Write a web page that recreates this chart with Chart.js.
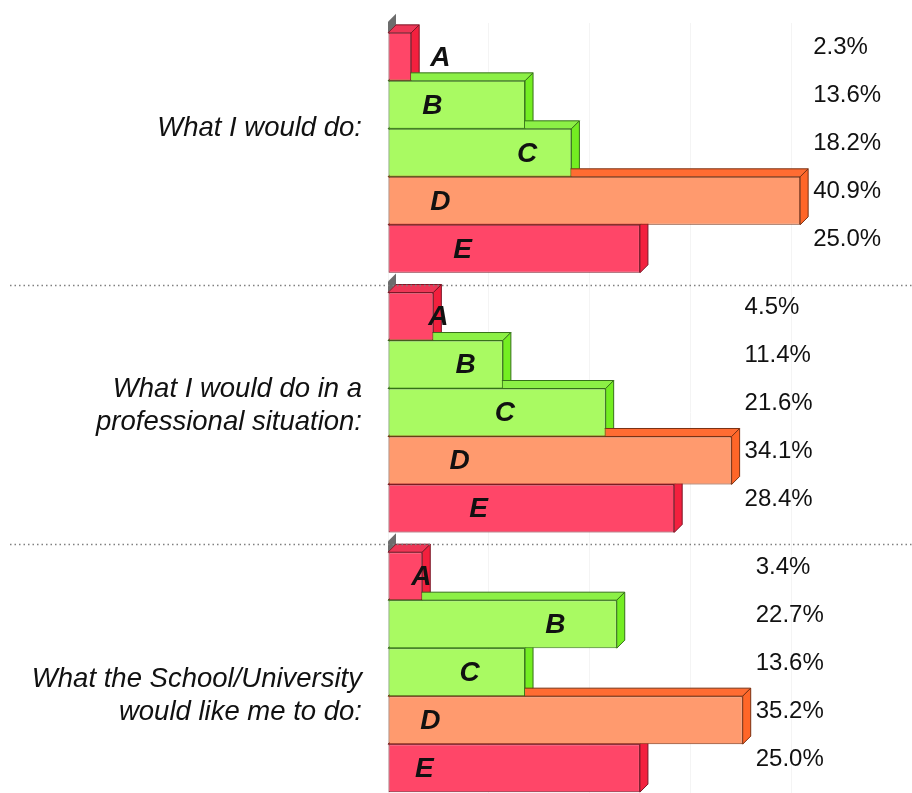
<!DOCTYPE html>
<html>
<head>
<meta charset="utf-8">
<script src="https://cdn.jsdelivr.net/npm/chart.js@4.4.1/dist/chart.umd.min.js"></script>
<style>
  html, body { margin: 0; padding: 0; background: #fff; overflow: hidden; }
  #wrap { position: relative; width: 912px; height: 802px; }
</style>
</head>
<body>
<div id="wrap"><canvas id="chart"></canvas></div>
<script>
// --- data ---
const groups = [
    ['What I would do:'],
    ['What I would do in a', 'professional situation:'],
    ['What the School/University', 'would like me to do:']
];
const letters = ['A', 'B', 'C', 'D', 'E'];
const valuesA = [2.3, 4.5, 3.4];
const valuesB = [13.6, 11.4, 22.7];
const valuesC = [18.2, 21.6, 13.6];
const valuesD = [40.9, 34.1, 35.2];
const valuesE = [25.0, 28.4, 25.0];

// where the letter sits inside each bar (in % axis units), per group
const letterPos = [
    [5.2, 5.0, 3.3],
    [4.4, 7.7, 16.6],
    [13.8, 11.6, 8.1],
    [5.2, 7.1, 4.2],
    [7.4, 9.0, 3.6]
];
// vertical nudge of the group labels (px)
const labelShift = [-24, -7, 24];

const FONT = '"Liberation Sans", Arial, sans-serif';
const DEPTH = 8;

// colours: front / top / side / edge
const red = { front: '#ff4668', top: '#ee3656', side: '#f3203e', edge: '#7a1626' };
const green = { front: '#a9fa62', top: '#8cf046', side: '#74ee22', edge: '#36701a' };
const salmon = { front: '#ff9a6e', top: '#ff6c32', side: '#ff6628', edge: '#7a3214' };

function makeSet(label, data, c) {
    return {
        label: label,
        data: data,
        backgroundColor: c.front,
        borderColor: c.edge,
        borderWidth: 1,
        borderSkipped: false,
        topColor: c.top,
        sideColor: c.side,
        barPercentage: 1,
        categoryPercentage: 0.924
    };
}

// 3D faces, drawn before the fronts so the bar above hides them
const threeD = {
    id: 'threeD',
    beforeDatasetsDraw(chart) {
        const ctx = chart.ctx;
        const x0 = chart.scales.x.getPixelForValue(0);
        ctx.save();
        // grey wall stub above each group
        chart.getDatasetMeta(0).data.forEach(bar => {
            const top = bar.y - bar.height / 2;
            ctx.beginPath();
            ctx.moveTo(x0, top);
            ctx.lineTo(x0, top - 11);
            ctx.lineTo(x0 + DEPTH, top - 19);
            ctx.lineTo(x0 + DEPTH, top - 8);
            ctx.closePath();
            ctx.fillStyle = '#6c6c6c';
            ctx.fill();
        });
        chart.data.datasets.forEach((ds, di) => {
            chart.getDatasetMeta(di).data.forEach(bar => {
                const top = bar.y - bar.height / 2;
                const bot = bar.y + bar.height / 2;
                const right = bar.x;
                ctx.lineWidth = 1;
                ctx.strokeStyle = ds.borderColor;
                ctx.beginPath();
                ctx.moveTo(x0, top);
                ctx.lineTo(x0 + DEPTH, top - DEPTH);
                ctx.lineTo(right + DEPTH, top - DEPTH);
                ctx.lineTo(right, top);
                ctx.closePath();
                ctx.fillStyle = ds.topColor;
                ctx.fill();
                ctx.stroke();
                ctx.beginPath();
                ctx.moveTo(right, top);
                ctx.lineTo(right + DEPTH, top - DEPTH);
                ctx.lineTo(right + DEPTH, bot - DEPTH);
                ctx.lineTo(right, bot);
                ctx.closePath();
                ctx.fillStyle = ds.sideColor;
                ctx.fill();
                ctx.stroke();
            });
        });
        ctx.restore();
    },
    afterDatasetsDraw(chart) {
        const ctx = chart.ctx;
        const xs = chart.scales.x;
        const metas = chart.data.datasets.map((ds, di) => chart.getDatasetMeta(di).data);
        ctx.save();
        ctx.fillStyle = '#111';
        ctx.textBaseline = 'middle';

        // letters inside bars
        ctx.font = 'italic bold 28px ' + FONT;
        ctx.textAlign = 'center';
        metas.forEach((bars, di) => {
            bars.forEach((bar, gi) => {
                ctx.fillText(letters[di], xs.getPixelForValue(letterPos[di][gi]), bar.y + 1);
            });
        });

        // percentage column, just right of the longest bar of each group
        ctx.font = '24px ' + FONT;
        ctx.textAlign = 'left';
        groups.forEach((g, gi) => {
            const maxEnd = Math.max(...metas.map(b => b[gi].x));
            metas.forEach((bars, di) => {
                const v = chart.data.datasets[di].data[gi];
                ctx.fillText(v.toFixed(1) + '%', maxEnd + DEPTH + 5, bars[gi].y - 9);
            });
        });

        // group labels
        ctx.font = 'italic 27.5px ' + FONT;
        ctx.textAlign = 'right';
        const ys = chart.scales.y;
        groups.forEach((lines, gi) => {
            const cy = ys.getPixelForValue(gi) + labelShift[gi];
            const lh = 33;
            lines.forEach((t, li) => {
                ctx.fillText(t, 362, cy + (li - (lines.length - 1) / 2) * lh);
            });
        });

        // dotted separators between groups
        ctx.strokeStyle = '#808080';
        ctx.lineWidth = 1.5;
        ctx.setLineDash([1.5, 3]);
        for (let i = 0; i < groups.length - 1; i++) {
            const y = Math.round((ys.getPixelForValue(i) + ys.getPixelForValue(i + 1)) / 2) + 2.5;
            ctx.beginPath();
            ctx.moveTo(10, y);
            ctx.lineTo(912, y);
            ctx.stroke();
        }
        ctx.restore();
    }
};

const chart = new Chart(document.getElementById('chart'), {
    type: 'bar',
    data: {
        labels: groups,
        datasets: [
            makeSet('A', valuesA, red),
            makeSet('B', valuesB, green),
            makeSet('C', valuesC, green),
            makeSet('D', valuesD, salmon),
            makeSet('E', valuesE, red)
        ]
    },
    options: {
        indexAxis: 'y',
        responsive: true,
        maintainAspectRatio: false,
        animation: false,
        layout: { padding: { left: 388, top: 23, right: 0, bottom: 0 } },
        plugins: {
            legend: { display: false },
            tooltip: { enabled: false }
        },
        scales: {
            y: { display: false },
            x: {
                min: 0,
                max: 52,
                ticks: { display: false, stepSize: 10 },
                grid: { color: '#f4f4f4', drawTicks: false },
                border: { display: false }
            }
        }
    },
    plugins: [threeD]
});
</script>
</body>
</html>
